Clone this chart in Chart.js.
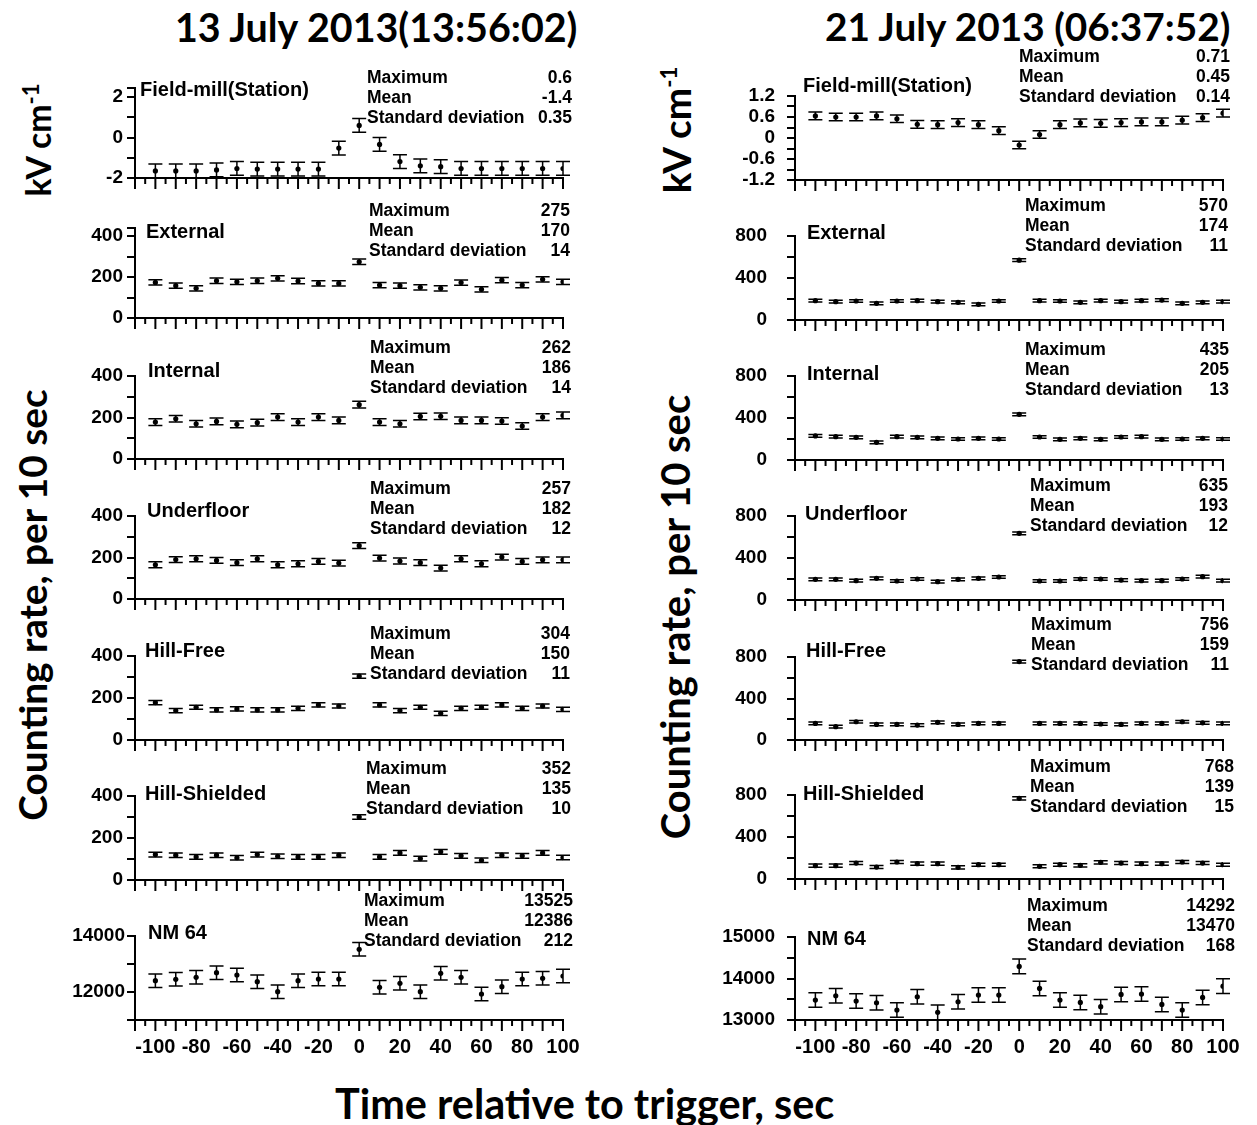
<!DOCTYPE html>
<html>
<head>
<meta charset="utf-8">
<script src="https://cdn.jsdelivr.net/npm/chart.js@4.4.0/dist/chart.umd.min.js"></script>
<style>
  body { margin: 0; background: #fff; }
  #page { position: relative; width: 1257px; height: 1125px; overflow: hidden; font-family: "Liberation Sans", Arial, sans-serif; }
  #page canvas { position: absolute; }
  .txt { position: absolute; font-weight: bold; color: #000; white-space: nowrap; line-height: 1; }
  .big { position: absolute; font-family: Lato, "Noto Sans", sans-serif; font-weight: bold; color: #000; white-space: nowrap; line-height: 1; }
  .rot { transform: translate(-50%, -50%) rotate(-90deg); }
</style>
</head>
<body>
<div id="page">
  <div class="big" id="title13" style="left:175px;top:7px;font-size:36px;">13 July 2013(13:56:02)</div>
  <div class="big" id="title21" style="left:825px;top:7px;font-size:36px;">21 July 2013 (06:37:52)</div>
  <div class="big" id="xTitle" style="left:335px;top:1083px;font-size:38px;">Time relative to trigger, sec</div>
  <div class="big rot" id="kv13" style="left:38px;top:140px;font-size:36px;">kV cm<sup style="font-size:22px;">-1</sup></div>
  <div class="big rot" id="cr13" style="left:32px;top:605px;font-size:36px;">Counting rate, per 10 sec</div>
  <div class="big rot" id="kv21" style="left:676px;top:130px;font-size:36px;">kV cm<sup style="font-size:22px;">-1</sup></div>
  <div class="big rot" id="cr21" style="left:676px;top:617px;font-size:36px;">Counting rate, per 10 sec</div>
</div>
<script>
// time of each 10-s sample relative to the trigger
const timeSec = [-100, -90, -80, -70, -60, -50, -40, -30, -20, -10, 0, 10, 20, 30, 40, 50, 60, 70, 80, 90, 100];
const xTickLabels = [-100, -80, -60, -40, -20, 0, 20, 40, 60, 80, 100];
const panelNames = ['Field-mill(Station)', 'External', 'Internal', 'Underfloor', 'Hill-Free', 'Hill-Shielded', 'NM 64'];

// 13 July 2013
const fieldMill13 = [-1.65, -1.65, -1.65, -1.6, -1.53, -1.56, -1.56, -1.56, -1.56, -0.52, 0.6, -0.34, -1.19, -1.4, -1.44, -1.53, -1.53, -1.53, -1.53, -1.53, -1.53];
const external13 = [174, 158, 145, 182, 177, 182, 194, 181, 169, 169, 275, 161, 158, 150, 145, 173, 140, 185, 161, 189, 177];
const internal13 = [178, 194, 170, 181, 167, 175, 202, 178, 202, 186, 262, 178, 170, 205, 206, 186, 186, 183, 159, 202, 210];
const underfloor13 = [165, 190, 194, 186, 175, 194, 165, 170, 181, 173, 257, 197, 183, 175, 149, 194, 170, 202, 181, 189, 189];
const hillFree13 = [178, 140, 156, 143, 148, 143, 143, 151, 167, 162, 304, 167, 140, 156, 127, 151, 156, 167, 151, 162, 146];
const hillShielded13 = [121, 118, 110, 118, 106, 121, 113, 110, 110, 118, 300, 110, 129, 102, 134, 115, 94, 118, 115, 129, 107];
const nm64_13 = [12405, 12452, 12524, 12690, 12607, 12369, 12012, 12405, 12464, 12464, 13525, 12167, 12310, 12012, 12667, 12524, 11929, 12190, 12464, 12488, 12571];
const errors13 = [0.34, 13, 16, 14, 10, 11, 240];
const maximum13 = ['0.6', '275', '262', '257', '304', '352', '13525'];
const mean13 = ['-1.4', '170', '186', '182', '150', '135', '12386'];
const stdDev13 = ['0.35', '14', '14', '12', '11', '10', '212'];
const yLabels13 = [[-2, 0, 2], [0, 200, 400], [0, 200, 400], [0, 200, 400], [0, 200, 400], [0, 200, 400], [12000, 14000]];

// 21 July 2013
const fieldMill21 = [0.63, 0.6, 0.6, 0.63, 0.55, 0.39, 0.38, 0.44, 0.38, 0.21, -0.2, 0.1, 0.38, 0.43, 0.42, 0.44, 0.46, 0.46, 0.51, 0.58, 0.71];
const external21 = [184, 175, 181, 159, 181, 184, 175, 168, 149, 181, 570, 184, 181, 168, 184, 175, 184, 190, 159, 168, 175];
const internal21 = [229, 222, 216, 168, 222, 216, 206, 200, 206, 200, 435, 219, 197, 206, 197, 219, 222, 197, 200, 206, 200];
const underfloor21 = [197, 197, 184, 206, 181, 200, 175, 197, 206, 219, 635, 181, 181, 200, 200, 190, 184, 184, 200, 222, 184];
const hillFree21 = [160, 128, 176, 150, 150, 144, 170, 150, 160, 160, 756, 160, 160, 160, 154, 150, 160, 160, 176, 166, 160];
const hillShielded21 = [127, 127, 152, 114, 162, 146, 146, 111, 136, 136, 768, 121, 136, 130, 159, 152, 146, 146, 162, 152, 136];
const nm64_21 = [13480, 13584, 13456, 13416, 13240, 13560, 13184, 13440, 13600, 13600, 14292, 13760, 13480, 13424, 13320, 13616, 13624, 13376, 13240, 13544, 13816];
const errors21 = [0.11, 13, 13, 13, 13, 15, 175];
const maximum21 = ['0.71', '570', '435', '635', '756', '768', '14292'];
const mean21 = ['0.45', '174', '205', '193', '159', '139', '13470'];
const stdDev21 = ['0.14', '11', '13', '12', '11', '15', '168'];
const yLabels21 = [[-1.2, -0.6, 0, 0.6, 1.2], [0, 400, 800], [0, 400, 800], [0, 400, 800], [0, 400, 800], [0, 400, 800], [13000, 14000, 15000]];

const series13 = [fieldMill13, external13, internal13, underfloor13, hillFree13, hillShielded13, nm64_13];
const series21 = [fieldMill21, external21, internal21, underfloor21, hillFree21, hillShielded21, nm64_21];

// axis ranges and page layout of every panel
const columns = [
  {
    series: series13, errors: errors13, yLabels: yLabels13, max: maximum13, mean: mean13, sd: stdDev13,
    axisX: 135,
    scales: [[-2, 2.45, 1], [0, 440, 100], [0, 400, 100], [0, 400, 100], [0, 400, 100], [0, 400, 100], [11000, 14000, 1000]],
    labelPad: [4, 4, 4, 4, 4, 4, 2],
    tops: [88, 228, 376, 516, 656, 796, 936],
    bottoms: [178, 318, 459, 599, 740, 880, 1020],
    names: [[140, 89], [146, 231], [148, 370], [147, 510], [145, 650], [145, 793], [148, 932]],
    stats: [[367, 572, 78], [369, 570, 211], [370, 571, 348], [370, 571, 489], [370, 570, 634], [366, 571, 769], [364, 573, 901]],
    gap: 20
  },
  {
    series: series21, errors: errors21, yLabels: yLabels21, max: maximum21, mean: mean21, sd: stdDev21,
    axisX: 795,
    scales: [[-1.2, 1.2, 0.3], [0, 800, 200], [0, 800, 200], [0, 800, 200], [0, 800, 200], [0, 800, 200], [13000, 15000, 500]],
    labelPad: [12, 20, 20, 20, 20, 20, 12],
    tops: [96, 236, 376, 516, 657, 795, 937],
    bottoms: [180, 320, 460, 600, 740, 879, 1020],
    names: [[803, 85], [807, 232], [807, 373], [805, 513], [806, 650], [803, 793], [807, 938]],
    stats: [[1019, 1230, 57], [1025, 1228, 206], [1025, 1229, 350], [1030, 1228, 486], [1031, 1229, 625], [1030, 1234, 767], [1027, 1235, 906]],
    gap: 19.7
  }
];

Chart.defaults.font.family = '"Liberation Sans", Arial, sans-serif';
Chart.defaults.color = '#000';

const Y_AXIS_W = 80, X_AXIS_H = 40, PAD_RIGHT = 22;

// error bars around each point
const errorBars = {
  id: 'errorBars',
  afterDatasetsDraw(chart, args, opts) {
    const { ctx, scales: { x, y } } = chart;
    ctx.save();
    ctx.strokeStyle = '#000';
    ctx.lineWidth = 1.5;
    chart.data.datasets[0].data.forEach(p => {
      const px = x.getPixelForValue(p.x);
      const hi = y.getPixelForValue(p.y + opts.err);
      const lo = y.getPixelForValue(p.y - opts.err);
      ctx.beginPath();
      ctx.moveTo(px, hi); ctx.lineTo(px, lo);
      ctx.moveTo(px - 7, hi); ctx.lineTo(px + 7, hi);
      ctx.moveTo(px - 7, lo); ctx.lineTo(px + 7, lo);
      ctx.stroke();
    });
    ctx.restore();
  }
};

// long ticks every 10 s, short ticks in between
const xTicks = {
  id: 'xTicks',
  afterDraw(chart) {
    const { ctx, scales: { x }, chartArea } = chart;
    ctx.save();
    ctx.strokeStyle = '#000';
    ctx.lineWidth = 2;
    x.ticks.forEach(t => {
      const px = x.getPixelForValue(t.value);
      const len = Math.abs(t.value % 10) < 1e-6 ? 11 : 6;
      ctx.beginPath();
      ctx.moveTo(px, chartArea.bottom);
      ctx.lineTo(px, chartArea.bottom + len);
      ctx.stroke();
    });
    ctx.restore();
  }
};

const page = document.getElementById('page');

function addText(txt, left, cy, size, right) {
  const d = document.createElement('div');
  d.className = 'txt';
  d.textContent = txt;
  d.style.fontSize = size + 'px';
  d.style.top = (cy - size / 2) + 'px';
  if (right) d.style.right = (1257 - left) + 'px';
  else d.style.left = left + 'px';
  page.appendChild(d);
}

function makePanel(col, i) {
  const c = columns[col];
  const [yMin, yMax, yStep] = c.scales[i];
  const top = c.tops[i], bottom = c.bottoms[i];
  const isLast = i === 6;
  const labels = c.yLabels[i];
  // tick padding also pads the scale vertically, so leave room for it
  const padTop = 14 + c.labelPad[i];

  const canvas = document.createElement('canvas');
  const w = 530, h = (bottom - top) + padTop + X_AXIS_H;
  canvas.width = w; canvas.height = h;
  canvas.style.left = (c.axisX - Y_AXIS_W) + 'px';
  canvas.style.top = (top - padTop) + 'px';
  canvas.style.width = w + 'px'; canvas.style.height = h + 'px';
  page.appendChild(canvas);

  const vals = c.series[i];
  const points = timeSec.map((t, k) => ({ x: t, y: vals[k] }));

  new Chart(canvas, {
    type: 'scatter',
    data: {
      datasets: [{
        data: points,
        pointRadius: 2.6,
        pointBackgroundColor: '#000',
        pointBorderWidth: 0
      }]
    },
    options: {
      responsive: false,
      animation: false,
      events: [],
      layout: { padding: { top: padTop, right: PAD_RIGHT, left: 0, bottom: 0 } },
      plugins: {
        legend: { display: false },
        tooltip: { enabled: false },
        errorBars: { err: c.errors[i] }
      },
      scales: {
        x: {
          type: 'linear',
          min: -110, max: 100,
          grid: { display: false, drawTicks: true, tickLength: 11 },
          border: { display: true, color: '#000', width: 2 },
          ticks: {
            display: isLast,
            stepSize: 5,
            autoSkip: false,
            maxRotation: 0,
            padding: 4,
            font: { size: 20, weight: 'bold' },
            callback: v => xTickLabels.includes(v) ? String(v) : ''
          },
          afterFit: s => { s.height = X_AXIS_H; }
        },
        y: {
          type: 'linear',
          min: yMin, max: yMax,
          grid: { drawOnChartArea: false, drawTicks: true, tickLength: 8, color: '#000', lineWidth: 2 },
          border: { display: true, color: '#000', width: 2 },
          ticks: {
            stepSize: yStep,
            includeBounds: false,
            autoSkip: false,
            padding: c.labelPad[i],
            font: { size: 19, weight: 'bold' },
            callback: v => {
              const l = labels.find(a => Math.abs(a - v) < 1e-6);
              return l === undefined ? '' : String(l);
            }
          },
          // keep a tick at the top end of the axis
          afterBuildTicks: s => {
            const last = s.ticks[s.ticks.length - 1];
            if (!last || Math.abs(last.value - yMax) > 1e-6) s.ticks.push({ value: yMax });
          },
          afterFit: s => { s.width = Y_AXIS_W; }
        }
      }
    },
    plugins: [errorBars, xTicks]
  });

  addText(panelNames[i], c.names[i][0], c.names[i][1], 20);
  const [sx, rx, sy] = c.stats[i];
  addText('Maximum', sx, sy, 17.5);
  addText('Mean', sx, sy + c.gap, 17.5);
  addText('Standard deviation', sx, sy + 2 * c.gap, 17.5);
  addText(c.max[i], rx, sy, 17.5, true);
  addText(c.mean[i], rx, sy + c.gap, 17.5, true);
  addText(c.sd[i], rx, sy + 2 * c.gap, 17.5, true);
}

for (let col = 0; col < 2; col++) {
  for (let i = 0; i < 7; i++) makePanel(col, i);
}

// size the large titles to the widths they have in the figure
function fitWidth(id, target) {
  const el = document.getElementById(id);
  const cur = parseFloat(el.style.fontSize);
  el.style.fontSize = (cur * target / el.offsetWidth) + 'px';
}
fitWidth('title13', 403);
fitWidth('title21', 405);
fitWidth('xTitle', 500);
fitWidth('cr13', 432);
fitWidth('cr21', 445);
fitWidth('kv13', 112);
fitWidth('kv21', 128);
</script>
</body>
</html>
